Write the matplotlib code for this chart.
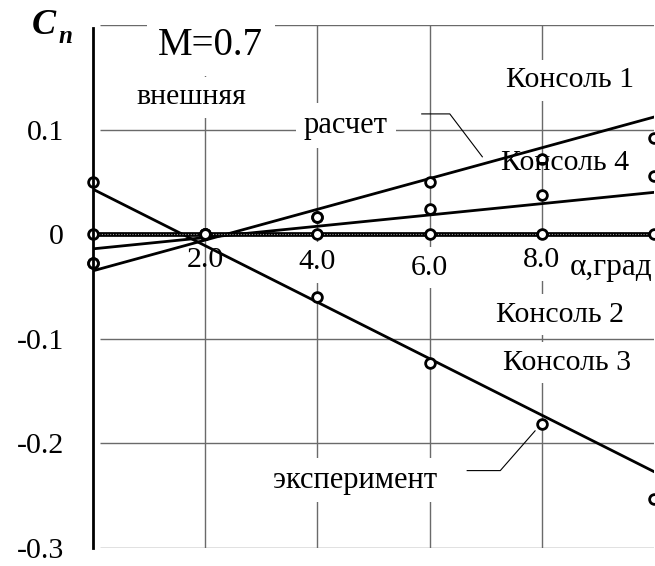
import matplotlib
matplotlib.use("Agg")
import matplotlib.pyplot as plt

# ---- data ----
alpha_calc = [0, 10]
k1_calc = [-0.035, 0.112]
k4_calc = [-0.014, 0.040]
k2_calc = [0.0, 0.0]
k3_calc = [0.043, -0.227]

alpha_exp = [0, 2, 4, 6, 8, 10]
k1_exp = [-0.028, 0.0, 0.016, 0.050, 0.072, 0.092]
k4_exp = [-0.028, 0.0, 0.016, 0.024, 0.037, 0.056]
k2_exp = [0.0, 0.0, 0.0, 0.0, 0.0, 0.0]
k3_exp = [0.050, 0.0, -0.060, -0.123, -0.181, -0.253]

y_ticks = [0.1, 0.0, -0.1, -0.2, -0.3]
y_tick_labels = ["0.1", "0", "-0.1", "-0.2", "-0.3"]
x_grid = [2, 4, 6, 8]
y_grid = [0.2, 0.1, -0.1, -0.2, -0.3]
x_tick_labels = ["2.0", "4.0", "6.0", "8.0"]

# leader lines (annotation guides)
lead_calc_x = [5.86, 6.36, 6.94]
lead_calc_y = [0.115, 0.115, 0.074]
lead_exp_x = [6.67, 7.26, 7.88]
lead_exp_y = [-0.226, -0.226, -0.188]

SERIF = ["Liberation Serif", "DejaVu Serif"]
W, H = 655, 566

fig = plt.figure(figsize=(W / 100, H / 100), dpi=100)
ax = fig.add_axes([93 / W, 18 / H, (654 - 93) / W, (548 - 25) / H])
ax.set_xlim(0, 10)
ax.set_ylim(-0.3, 0.2)
for s in ["top", "right", "bottom"]:
    ax.spines[s].set_visible(False)
ax.spines["left"].set_linewidth(2.0)
ax.spines["left"].set_color("black")
ax.spines["left"].set_zorder(6)
ax.spines["left"].set_bounds(-0.3, 0.197)

# grid
gcol = "#6a6a6a"
ax.hlines(y_grid, 0.13, 10, color=gcol, lw=1.0, zorder=1)
ax.vlines(x_grid, -0.3, 0.2, color=gcol, lw=1.0, zorder=1)

# ticks
ax.set_xticks([])
ax.set_yticks(y_ticks)
ax.set_yticklabels(y_tick_labels, fontfamily=SERIF, fontsize=21.5)
ax.tick_params(axis="y", length=0, pad=21)

box = dict(boxstyle="square,pad=0.25", fc="white", ec="none")

# x labels along zero line
xl_pos_y = [-0.025, -0.027, -0.032, -0.025]
for xv, lab, yv in zip(x_grid, x_tick_labels, xl_pos_y):
    kw = {} if lab == "2.0" else dict(bbox=box)
    ax.text(xv, yv, lab, ha="center", va="center", fontsize=21.5,
            fontfamily=SERIF, zorder=2, **kw)
ax.text(9.23, -0.032, "α,град", ha="center", va="center", fontsize=22.5,
        fontfamily=SERIF, zorder=2, bbox=box)

# calc lines
ax.plot(alpha_calc, k1_calc, color="black", lw=2.0, zorder=3)
ax.plot(alpha_calc, k4_calc, color="black", lw=2.0, zorder=3)
ax.plot(alpha_calc, k3_calc, color="black", lw=2.0, zorder=3)
ax.plot(alpha_calc, k2_calc, color="black", lw=3.4, zorder=3)
ax.plot(alpha_calc, k2_calc, color="#9a9a9a", lw=0.8, ls=(0, (1, 1.5)), zorder=3)

# experiment markers
mk = dict(ls="none", marker="o", ms=7, mfc="white", mec="black", mew=2.0,
          zorder=4, clip_on=False)
for ys in (k1_exp, k4_exp, k2_exp, k3_exp):
    ax.plot(alpha_exp, ys, **mk)

# leader lines
ax.plot(lead_calc_x, lead_calc_y, color="black", lw=0.8, zorder=3)
ax.plot(lead_exp_x, lead_exp_y, color="black", lw=0.8, zorder=3)

# labels
ax.text(2.10, 0.180, "M=0.7", ha="center", va="center", fontsize=28,
        fontfamily=SERIF, zorder=2, bbox=dict(boxstyle="square,pad=0.3", fc="white", ec="none"))
ax.text(1.76, 0.131, "внешняя", ha="center", va="center", fontsize=21.5,
        fontfamily=SERIF, zorder=2, bbox=box)
ax.text(8.50, 0.147, "Консоль 1", ha="center", va="center", fontsize=21.5,
        fontfamily=SERIF, zorder=2, bbox=box)
ax.text(4.51, 0.104, "расчет", ha="center", va="center", fontsize=22,
        fontfamily=SERIF, zorder=2, bbox=box)
ax.text(8.41, 0.068, "Консоль 4", ha="center", va="center", fontsize=21.5,
        fontfamily=SERIF, zorder=5)
ax.text(8.32, -0.077, "Консоль 2", ha="center", va="center", fontsize=21.5,
        fontfamily=SERIF, zorder=2, bbox=box)
ax.text(8.45, -0.123, "Консоль 3", ha="center", va="center", fontsize=21.5,
        fontfamily=SERIF, zorder=2, bbox=box)
ax.text(4.67, -0.235, "эксперимент", ha="center", va="center", fontsize=22,
        fontfamily=SERIF, zorder=2, bbox=box)

# y-axis title C_n
fig.text(32 / W, 1 - 26 / H, "C", ha="left", va="center", fontsize=26,
         fontfamily=SERIF, fontweight="bold", fontstyle="italic")
fig.text(58 / W, 1 - 43 / H, "n", ha="left", va="baseline", fontsize=18,
         fontfamily=SERIF, fontweight="bold", fontstyle="italic")

fig.savefig("out.png", dpi=100)
